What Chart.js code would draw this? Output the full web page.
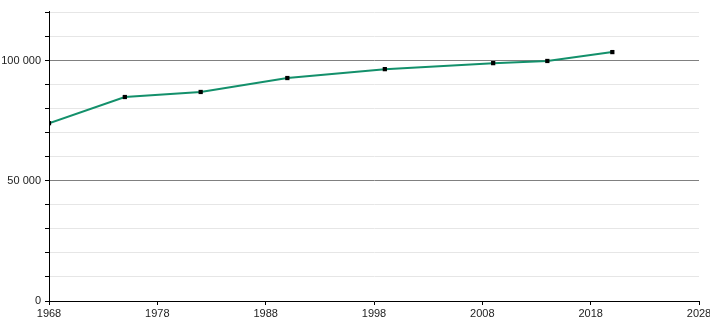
<!DOCTYPE html>
<html>
<head>
<meta charset="utf-8">
<script src="https://cdn.jsdelivr.net/npm/chart.js@4/dist/chart.umd.min.js"></script>
<style>
  html, body { margin: 0; padding: 0; background: #fff; }
  #wrap { width: 710px; height: 320px; }
</style>
</head>
<body>
<div id="wrap"><canvas id="popChart"></canvas></div>
<script>
// census years and population
var years = [1968, 1975, 1982, 1990, 1999, 2009, 2014, 2020];
var population = [74000, 84900, 87000, 92800, 96500, 99000, 99900, 103600];
var xTicks = [1968, 1978, 1988, 1998, 2008, 2018, 2028];
var yLabelled = [0, 50000, 100000];

var fmt = (v) => String(v).replace(/\B(?=(\d{3})+(?!\d))/g, ' ');

var points = years.map((y, i) => ({ x: y, y: population[i] }));

Chart.defaults.font.family = '"Liberation Sans", Arial, sans-serif';
Chart.defaults.font.size = 11;
Chart.defaults.color = '#222';

var ctx = document.getElementById('popChart').getContext('2d');
var myChart = new Chart(ctx, {
    type: 'line',
    data: {
        datasets: [{
            data: points,
            borderColor: '#13906b',
            borderWidth: 2,
            pointStyle: 'rect',
            pointRadius: 3,
            pointBackgroundColor: '#000',
            pointBorderColor: '#000',
            pointBorderWidth: 0,
            tension: 0
        }]
    },
    options: {
        responsive: true,
        maintainAspectRatio: false,
        animation: false,
        layout: { padding: { top: 11, right: 11, left: 0, bottom: 0 } },
        plugins: { legend: { display: false }, tooltip: { enabled: false } },
        scales: {
            x: {
                type: 'linear',
                min: 1968,
                max: 2028,
                afterBuildTicks: (scale) => {
                    scale.ticks = xTicks.map(v => ({ value: v }));
                },
                afterFit: (scale) => {
                    scale.height = 19;
                    scale.paddingLeft = 0;
                    scale.paddingRight = 0;
                },
                ticks: {
                    callback: (v) => String(v),
                    maxRotation: 0,
                    autoSkip: false,
                    padding: 2
                },
                grid: {
                    drawOnChartArea: false,
                    drawTicks: true,
                    tickLength: 4,
                    tickColor: '#000'
                },
                border: { color: '#000', width: 1 }
            },
            y: {
                min: 0,
                max: 120700,
                afterBuildTicks: (scale) => {
                    var t = [];
                    for (var v = 0; v <= 120000; v += 10000) t.push({ value: v });
                    scale.ticks = t;
                },
                afterFit: (scale) => {
                    scale.width = 49;
                    scale.paddingTop = 0;
                    scale.paddingBottom = 0;
                },
                ticks: {
                    autoSkip: false,
                    padding: 4,
                    callback: (v) => yLabelled.indexOf(v) >= 0 ? fmt(v) : ''
                },
                grid: {
                    drawTicks: true,
                    tickLength: 4,
                    tickColor: '#000',
                    color: (c) => {
                        if (!c.tick) return 'rgba(0,0,0,0)';
                        if (c.tick.value === 0) return 'rgba(0,0,0,0)';
                        return yLabelled.indexOf(c.tick.value) >= 0 ? '#808080' : '#e6e6e6';
                    }
                },
                border: { color: '#000', width: 1 }
            }
        }
    }
});
</script>
</body>
</html>
